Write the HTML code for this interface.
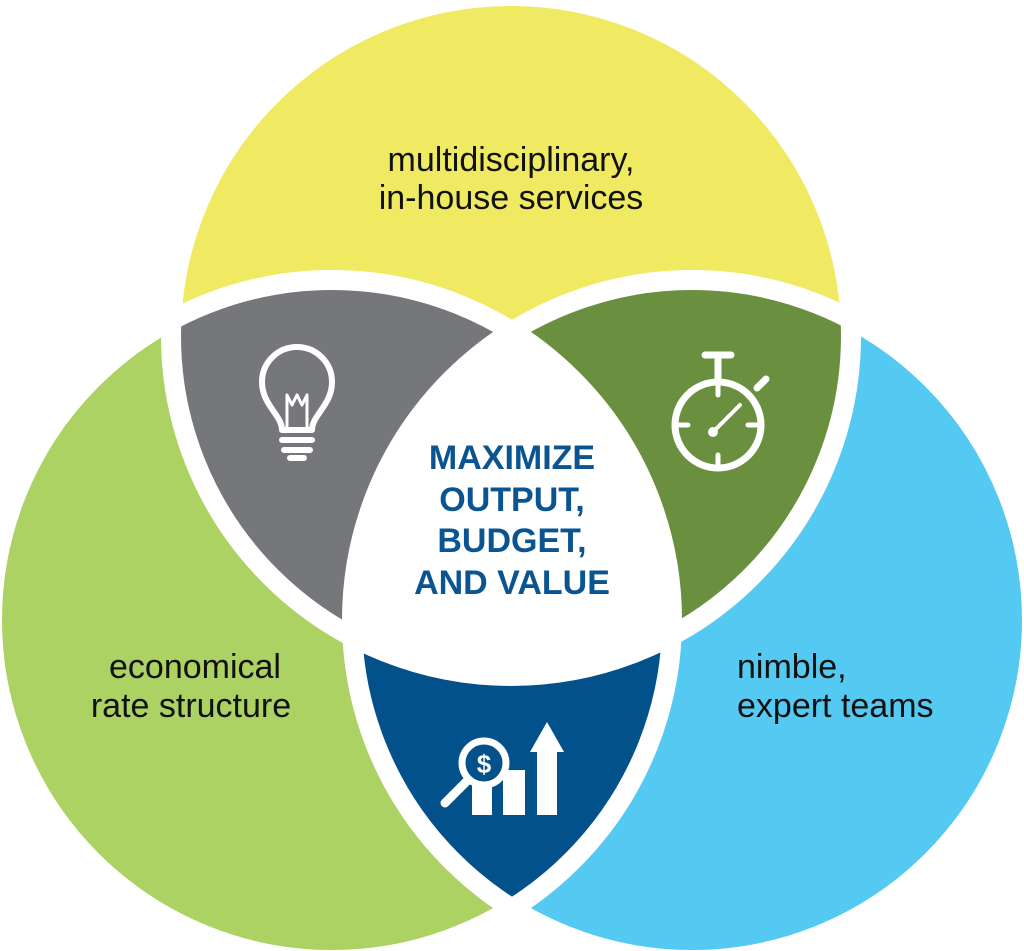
<!DOCTYPE html>
<html><head><meta charset="utf-8"><style>
html,body{margin:0;padding:0;background:#fff}
svg{display:block}
text{font-family:"Liberation Sans",Arial,sans-serif}
</style></head><body>
<svg width="1024" height="951" viewBox="0 0 1024 951" xmlns="http://www.w3.org/2000/svg">
<defs>
<clipPath id="cy"><circle cx="511" cy="336" r="340"/></clipPath>
<clipPath id="cg"><circle cx="332" cy="620" r="340"/></clipPath>
<clipPath id="cb"><circle cx="692" cy="620" r="340"/></clipPath>
</defs>
<circle cx="511" cy="336" r="340" fill="#efea62"/>
<circle cx="332" cy="620" r="340" fill="#acd263"/>
<circle cx="692" cy="620" r="340" fill="#54c9f2"/>
<g clip-path="url(#cy)"><circle cx="332" cy="620" r="340" fill="#76777a"/><circle cx="692" cy="620" r="340" fill="#6a8f3f"/></g>
<g clip-path="url(#cg)"><circle cx="692" cy="620" r="340" fill="#03518b"/></g>
<g clip-path="url(#cy)"><g clip-path="url(#cg)"><circle cx="692" cy="620" r="340" fill="#fff"/></g></g>
<g fill="none" stroke="#fff" stroke-width="20">
<circle cx="511" cy="336" r="340"/><circle cx="332" cy="620" r="340"/><circle cx="692" cy="620" r="340"/>
</g>
<g font-size="34" fill="#111" >
<text x="511" y="171" text-anchor="middle">multidisciplinary,</text>
<text x="511" y="209" text-anchor="middle">in-house services</text>
<text x="195" y="678" text-anchor="middle">economical</text>
<text x="191" y="717" text-anchor="middle">rate structure</text>
<text x="737" y="678">nimble,</text>
<text x="737" y="717">expert teams</text>
</g>
<g font-size="34" font-weight="bold" fill="#0a5491" text-anchor="middle">
<text x="512" y="469">MAXIMIZE</text>
<text x="512" y="511">OUTPUT,</text>
<text x="512" y="552">BUDGET,</text>
<text x="512" y="594">AND VALUE</text>
</g>
<g fill="none" stroke="#fff" stroke-width="6" stroke-linecap="round" stroke-linejoin="round">
<path d="M282 430 C282 415 262 405 262 382 A35 35 0 0 1 332 382 C332 405 312 415 312 430 Z"/>
<path d="M282 440 H312 M284 450 H310 M290 458 H304"/>
<path d="M287 428 L287 395 L292 405 L297 395 L302 405 L307 395 L307 428" stroke-width="3"/>
</g>
<g fill="none" stroke="#fff" stroke-linecap="round">
<circle cx="718" cy="425" r="43" stroke-width="7"/>
<path d="M705 355 H731 M718 355 V378" stroke-width="7"/>
<path d="M757 388 L766 379" stroke-width="7"/>
<path d="M718 385 V395 M718 455 V465 M678 425 H688 M748 425 H758" stroke-width="5"/>
<path d="M713 432 L740 405" stroke-width="4"/>
</g>
<circle cx="713" cy="432" r="5" fill="#fff"/>
<g fill="#fff">
<rect x="472" y="785" width="20" height="30"/>
<rect x="503" y="770" width="22" height="45"/>
<rect x="537" y="750" width="20" height="65"/>
<polygon points="530,752 547,722 564,752"/>
</g>
<g fill="none" stroke="#fff" stroke-linecap="round">
<circle cx="484" cy="763" r="22" stroke-width="7" fill="#03518b"/>
<path d="M467 781 L445 803" stroke-width="9"/>
</g>
<text x="484" y="773" font-size="26" font-weight="bold" fill="#fff" text-anchor="middle">$</text>
</svg>
</body></html>
